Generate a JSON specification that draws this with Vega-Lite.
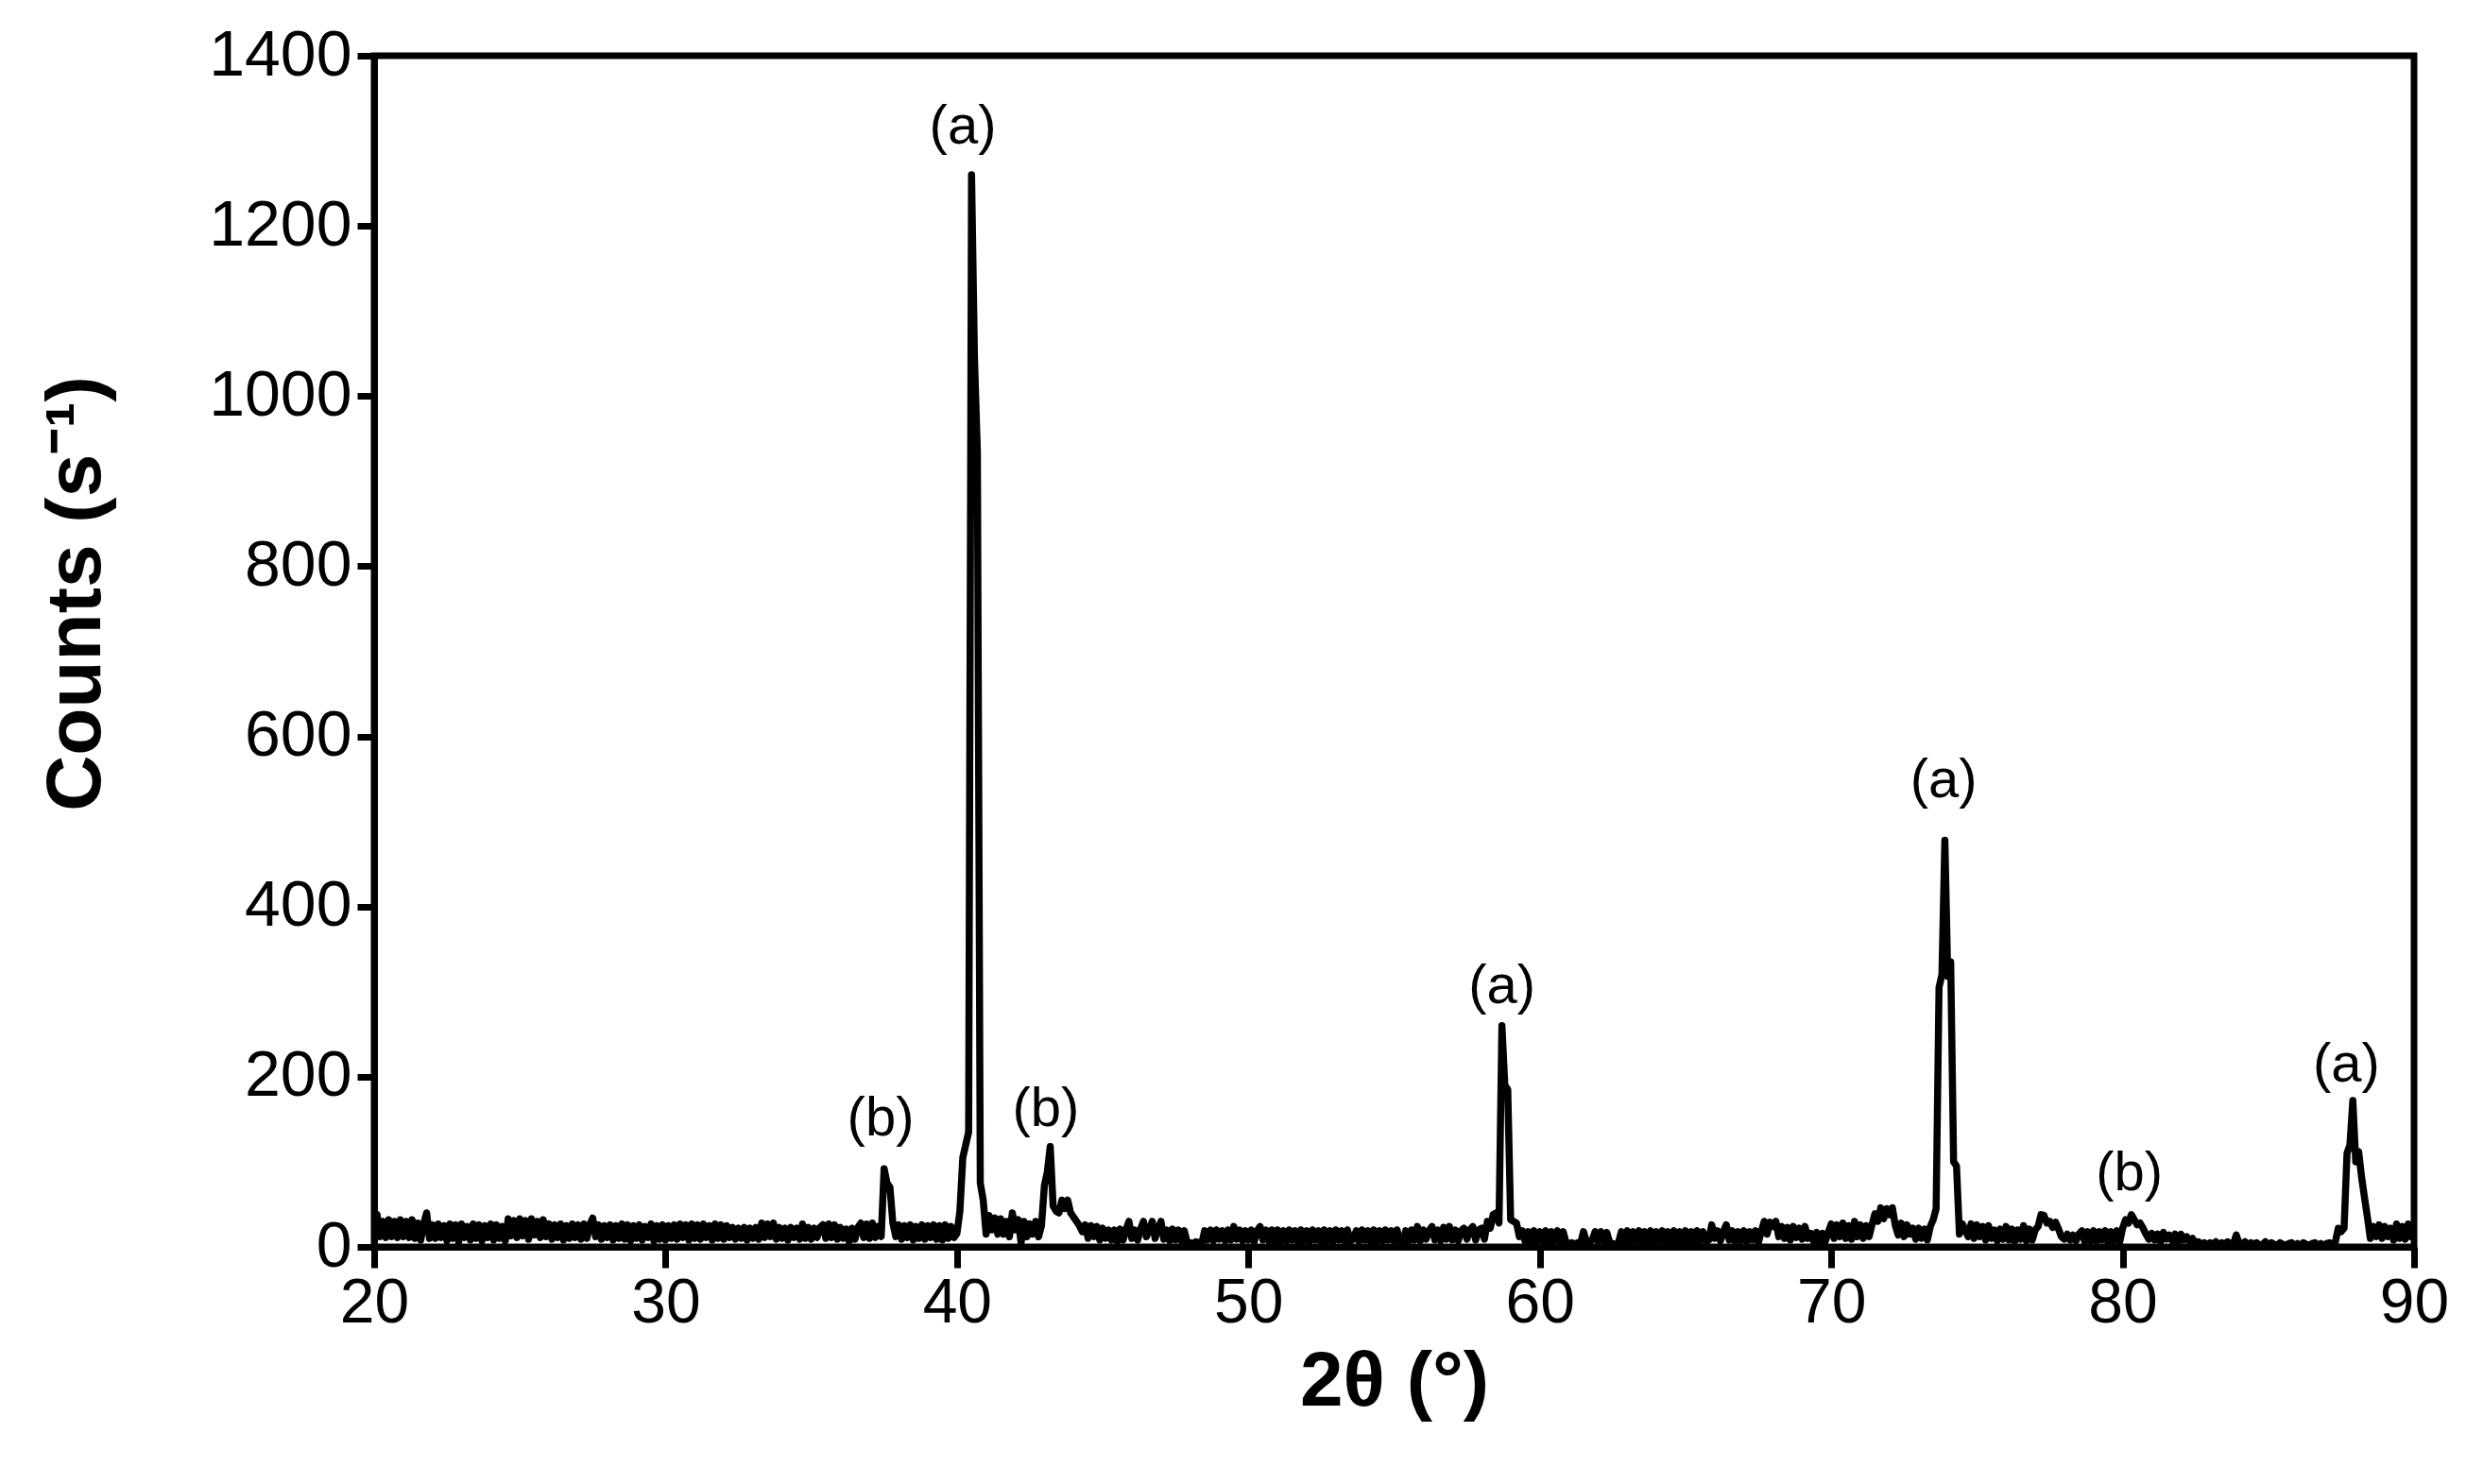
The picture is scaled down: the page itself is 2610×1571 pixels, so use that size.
{
"$schema": "https://vega.github.io/schema/vega-lite/v6.json",
"width": 2159, "height": 1261,
"autosize": {"type": "none"},
"padding": {"left": 396, "top": 59, "right": 55, "bottom": 251},
"background": "white",
"config": {"view": {"stroke": "black", "strokeWidth": 7}, "font": "Liberation Sans"},
"datasets": {
"xrd": [
{"t":20.0,"c":35},{"t":20.1,"c":38},{"t":20.2,"c":12},{"t":20.3,"c":30},{"t":20.4,"c":11},{"t":20.5,"c":32},{"t":20.6,"c":12},{"t":20.7,"c":30},{"t":20.8,"c":11},{"t":20.9,"c":32},
{"t":21.0,"c":12},{"t":21.1,"c":30},{"t":21.2,"c":11},{"t":21.3,"c":32},{"t":21.4,"c":10},{"t":21.5,"c":28},{"t":21.6,"c":8},{"t":21.7,"c":27},{"t":21.8,"c":40},{"t":21.9,"c":10},
{"t":22.0,"c":26},{"t":22.1,"c":10},{"t":22.2,"c":27},{"t":22.3,"c":11},{"t":22.4,"c":25},{"t":22.5,"c":7},{"t":22.6,"c":27},{"t":22.7,"c":10},{"t":22.8,"c":26},{"t":22.9,"c":6},
{"t":23.0,"c":27},{"t":23.1,"c":11},{"t":23.2,"c":24},{"t":23.3,"c":8},{"t":23.4,"c":27},{"t":23.5,"c":10},{"t":23.6,"c":26},{"t":23.7,"c":7},{"t":23.8,"c":25},{"t":23.9,"c":11},
{"t":24.0,"c":27},{"t":24.1,"c":8},{"t":24.2,"c":26},{"t":24.3,"c":10},{"t":24.4,"c":24},{"t":24.5,"c":7},{"t":24.6,"c":33},{"t":24.7,"c":13},{"t":24.8,"c":31},{"t":24.9,"c":11},
{"t":25.0,"c":33},{"t":25.1,"c":13},{"t":25.2,"c":31},{"t":25.3,"c":9},{"t":25.4,"c":33},{"t":25.5,"c":14},{"t":25.6,"c":30},{"t":25.7,"c":11},{"t":25.8,"c":32},{"t":25.9,"c":12},
{"t":26.0,"c":27},{"t":26.1,"c":9},{"t":26.2,"c":26},{"t":26.3,"c":11},{"t":26.4,"c":27},{"t":26.5,"c":8},{"t":26.6,"c":25},{"t":26.7,"c":10},{"t":26.8,"c":27},{"t":26.9,"c":11},
{"t":27.0,"c":26},{"t":27.1,"c":9},{"t":27.2,"c":27},{"t":27.3,"c":10},{"t":27.4,"c":26},{"t":27.5,"c":34},{"t":27.6,"c":12},{"t":27.7,"c":26},{"t":27.8,"c":9},{"t":27.9,"c":25},
{"t":28.0,"c":11},{"t":28.1,"c":26},{"t":28.2,"c":8},{"t":28.3,"c":25},{"t":28.4,"c":10},{"t":28.5,"c":27},{"t":28.6,"c":9},{"t":28.7,"c":26},{"t":28.8,"c":7},{"t":28.9,"c":25},
{"t":29.0,"c":10},{"t":29.1,"c":26},{"t":29.2,"c":8},{"t":29.3,"c":24},{"t":29.4,"c":11},{"t":29.5,"c":27},{"t":29.6,"c":7},{"t":29.7,"c":25},{"t":29.8,"c":9},{"t":29.9,"c":26},
{"t":30.0,"c":8},{"t":30.1,"c":25},{"t":30.2,"c":10},{"t":30.3,"c":26},{"t":30.4,"c":9},{"t":30.5,"c":27},{"t":30.6,"c":11},{"t":30.7,"c":26},{"t":30.8,"c":8},{"t":30.9,"c":27},
{"t":31.0,"c":10},{"t":31.1,"c":26},{"t":31.2,"c":9},{"t":31.3,"c":27},{"t":31.4,"c":11},{"t":31.5,"c":25},{"t":31.6,"c":8},{"t":31.7,"c":27},{"t":31.8,"c":10},{"t":31.9,"c":26},
{"t":32.0,"c":9},{"t":32.1,"c":25},{"t":32.2,"c":11},{"t":32.3,"c":23},{"t":32.4,"c":9},{"t":32.5,"c":22},{"t":32.6,"c":10},{"t":32.7,"c":23},{"t":32.8,"c":8},{"t":32.9,"c":22},
{"t":33.0,"c":10},{"t":33.1,"c":23},{"t":33.2,"c":9},{"t":33.3,"c":28},{"t":33.4,"c":11},{"t":33.5,"c":27},{"t":33.6,"c":12},{"t":33.7,"c":28},{"t":33.8,"c":9},{"t":33.9,"c":23},
{"t":34.0,"c":10},{"t":34.1,"c":22},{"t":34.2,"c":8},{"t":34.3,"c":23},{"t":34.4,"c":11},{"t":34.5,"c":22},{"t":34.6,"c":9},{"t":34.7,"c":27},{"t":34.8,"c":10},{"t":34.9,"c":23},
{"t":35.0,"c":9},{"t":35.1,"c":22},{"t":35.2,"c":11},{"t":35.3,"c":23},{"t":35.4,"c":26},{"t":35.5,"c":10},{"t":35.6,"c":27},{"t":35.7,"c":11},{"t":35.8,"c":26},{"t":35.9,"c":9},
{"t":36.0,"c":23},{"t":36.1,"c":10},{"t":36.2,"c":21},{"t":36.3,"c":6},{"t":36.4,"c":22},{"t":36.5,"c":9},{"t":36.6,"c":23},{"t":36.7,"c":28},{"t":36.8,"c":11},{"t":36.9,"c":27},
{"t":37.0,"c":10},{"t":37.1,"c":28},{"t":37.2,"c":11},{"t":37.3,"c":24},{"t":37.4,"c":12},{"t":37.5,"c":92},{"t":37.6,"c":75},{"t":37.7,"c":70},{"t":37.8,"c":28},{"t":37.9,"c":12},
{"t":38.0,"c":26},{"t":38.1,"c":9},{"t":38.2,"c":25},{"t":38.3,"c":11},{"t":38.4,"c":26},{"t":38.5,"c":8},{"t":38.6,"c":24},{"t":38.7,"c":10},{"t":38.8,"c":26},{"t":38.9,"c":9},
{"t":39.0,"c":25},{"t":39.1,"c":11},{"t":39.2,"c":26},{"t":39.3,"c":9},{"t":39.4,"c":25},{"t":39.5,"c":8},{"t":39.6,"c":26},{"t":39.7,"c":10},{"t":39.8,"c":24},{"t":39.9,"c":11},
{"t":40.0,"c":16},{"t":40.1,"c":42},{"t":40.2,"c":105},{"t":40.3,"c":120},{"t":40.4,"c":135},{"t":40.5,"c":1260},{"t":40.6,"c":1045},{"t":40.7,"c":935},{"t":40.8,"c":75},{"t":40.9,"c":55},
{"t":41.0,"c":15},{"t":41.1,"c":37},{"t":41.2,"c":20},{"t":41.3,"c":34},{"t":41.4,"c":15},{"t":41.5,"c":33},{"t":41.6,"c":15},{"t":41.7,"c":30},{"t":41.8,"c":12},{"t":41.9,"c":40},
{"t":42.0,"c":20},{"t":42.1,"c":32},{"t":42.2,"c":5},{"t":42.3,"c":30},{"t":42.4,"c":12},{"t":42.5,"c":27},{"t":42.6,"c":15},{"t":42.7,"c":30},{"t":42.8,"c":12},{"t":42.9,"c":25},
{"t":43.0,"c":72},{"t":43.1,"c":88},{"t":43.2,"c":118},{"t":43.3,"c":48},{"t":43.4,"c":42},{"t":43.5,"c":40},{"t":43.6,"c":55},{"t":43.7,"c":45},{"t":43.8,"c":55},{"t":43.9,"c":40},
{"t":44.0,"c":35},{"t":44.1,"c":30},{"t":44.2,"c":25},{"t":44.3,"c":18},{"t":44.4,"c":26},{"t":44.5,"c":10},{"t":44.6,"c":25},{"t":44.7,"c":12},{"t":44.8,"c":24},{"t":44.9,"c":8},
{"t":45.0,"c":22},{"t":45.1,"c":10},{"t":45.2,"c":20},{"t":45.3,"c":8},{"t":45.4,"c":20},{"t":45.5,"c":6},{"t":45.6,"c":21},{"t":45.7,"c":8},{"t":45.8,"c":20},{"t":45.9,"c":30},
{"t":46.0,"c":10},{"t":46.1,"c":20},{"t":46.2,"c":8},{"t":46.3,"c":21},{"t":46.4,"c":30},{"t":46.5,"c":12},{"t":46.6,"c":20},{"t":46.7,"c":30},{"t":46.8,"c":10},{"t":46.9,"c":21},
{"t":47.0,"c":30},{"t":47.1,"c":9},{"t":47.2,"c":20},{"t":47.3,"c":7},{"t":47.4,"c":21},{"t":47.5,"c":8},{"t":47.6,"c":20},{"t":47.7,"c":7},{"t":47.8,"c":19},{"t":47.9,"c":5},
{"t":48.0,"c":5},{"t":48.1,"c":4},{"t":48.2,"c":6},{"t":48.3,"c":5},{"t":48.4,"c":4},{"t":48.5,"c":19},{"t":48.6,"c":8},{"t":48.7,"c":20},{"t":48.8,"c":7},{"t":48.9,"c":20},
{"t":49.0,"c":9},{"t":49.1,"c":19},{"t":49.2,"c":7},{"t":49.3,"c":20},{"t":49.4,"c":8},{"t":49.5,"c":24},{"t":49.6,"c":9},{"t":49.7,"c":20},{"t":49.8,"c":7},{"t":49.9,"c":19},
{"t":50.0,"c":8},{"t":50.1,"c":20},{"t":50.2,"c":6},{"t":50.3,"c":19},{"t":50.4,"c":24},{"t":50.5,"c":8},{"t":50.6,"c":20},{"t":50.7,"c":7},{"t":50.8,"c":20},{"t":50.9,"c":5},
{"t":51.0,"c":20},{"t":51.1,"c":7},{"t":51.2,"c":19},{"t":51.3,"c":6},{"t":51.4,"c":20},{"t":51.5,"c":8},{"t":51.6,"c":19},{"t":51.7,"c":5},{"t":51.8,"c":20},{"t":51.9,"c":7},
{"t":52.0,"c":19},{"t":52.1,"c":6},{"t":52.2,"c":20},{"t":52.3,"c":8},{"t":52.4,"c":19},{"t":52.5,"c":5},{"t":52.6,"c":20},{"t":52.7,"c":7},{"t":52.8,"c":19},{"t":52.9,"c":6},
{"t":53.0,"c":20},{"t":53.1,"c":8},{"t":53.2,"c":19},{"t":53.3,"c":6},{"t":53.4,"c":20},{"t":53.5,"c":7},{"t":53.6,"c":9},{"t":53.7,"c":19},{"t":53.8,"c":6},{"t":53.9,"c":20},
{"t":54.0,"c":8},{"t":54.1,"c":19},{"t":54.2,"c":5},{"t":54.3,"c":20},{"t":54.4,"c":7},{"t":54.5,"c":19},{"t":54.6,"c":6},{"t":54.7,"c":20},{"t":54.8,"c":8},{"t":54.9,"c":19},
{"t":55.0,"c":6},{"t":55.1,"c":20},{"t":55.2,"c":7},{"t":55.3,"c":3},{"t":55.4,"c":19},{"t":55.5,"c":6},{"t":55.6,"c":20},{"t":55.7,"c":8},{"t":55.8,"c":24},{"t":55.9,"c":7},
{"t":56.0,"c":20},{"t":56.1,"c":9},{"t":56.2,"c":19},{"t":56.3,"c":24},{"t":56.4,"c":8},{"t":56.5,"c":20},{"t":56.6,"c":7},{"t":56.7,"c":23},{"t":56.8,"c":9},{"t":56.9,"c":24},
{"t":57.0,"c":8},{"t":57.1,"c":20},{"t":57.2,"c":7},{"t":57.3,"c":19},{"t":57.4,"c":22},{"t":57.5,"c":9},{"t":57.6,"c":20},{"t":57.7,"c":24},{"t":57.8,"c":8},{"t":57.9,"c":20},
{"t":58.0,"c":22},{"t":58.1,"c":9},{"t":58.2,"c":30},{"t":58.3,"c":22},{"t":58.4,"c":38},{"t":58.5,"c":40},{"t":58.6,"c":28},{"t":58.7,"c":260},{"t":58.8,"c":190},{"t":58.9,"c":185},
{"t":59.0,"c":32},{"t":59.1,"c":30},{"t":59.2,"c":28},{"t":59.3,"c":12},{"t":59.4,"c":19},{"t":59.5,"c":6},{"t":59.6,"c":18},{"t":59.7,"c":5},{"t":59.8,"c":19},{"t":59.9,"c":7},
{"t":60.0,"c":18},{"t":60.1,"c":6},{"t":60.2,"c":19},{"t":60.3,"c":5},{"t":60.4,"c":18},{"t":60.5,"c":7},{"t":60.6,"c":19},{"t":60.7,"c":6},{"t":60.8,"c":18},{"t":60.9,"c":5},
{"t":61.0,"c":4},{"t":61.1,"c":5},{"t":61.2,"c":3},{"t":61.3,"c":5},{"t":61.4,"c":4},{"t":61.5,"c":18},{"t":61.6,"c":6},{"t":61.7,"c":5},{"t":61.8,"c":8},{"t":61.9,"c":18},
{"t":62.0,"c":6},{"t":62.1,"c":18},{"t":62.2,"c":7},{"t":62.3,"c":17},{"t":62.4,"c":5},{"t":62.5,"c":4},{"t":62.6,"c":3},{"t":62.7,"c":5},{"t":62.8,"c":18},{"t":62.9,"c":6},
{"t":63.0,"c":19},{"t":63.1,"c":5},{"t":63.2,"c":18},{"t":63.3,"c":7},{"t":63.4,"c":19},{"t":63.5,"c":4},{"t":63.6,"c":18},{"t":63.7,"c":6},{"t":63.8,"c":19},{"t":63.9,"c":5},
{"t":64.0,"c":18},{"t":64.1,"c":7},{"t":64.2,"c":19},{"t":64.3,"c":4},{"t":64.4,"c":18},{"t":64.5,"c":6},{"t":64.6,"c":19},{"t":64.7,"c":5},{"t":64.8,"c":18},{"t":64.9,"c":3},
{"t":65.0,"c":19},{"t":65.1,"c":6},{"t":65.2,"c":18},{"t":65.3,"c":5},{"t":65.4,"c":19},{"t":65.5,"c":7},{"t":65.6,"c":18},{"t":65.7,"c":6},{"t":65.8,"c":8},{"t":65.9,"c":26},
{"t":66.0,"c":10},{"t":66.1,"c":19},{"t":66.2,"c":7},{"t":66.3,"c":18},{"t":66.4,"c":26},{"t":66.5,"c":8},{"t":66.6,"c":19},{"t":66.7,"c":6},{"t":66.8,"c":18},{"t":66.9,"c":7},
{"t":67.0,"c":19},{"t":67.1,"c":6},{"t":67.2,"c":18},{"t":67.3,"c":8},{"t":67.4,"c":19},{"t":67.5,"c":5},{"t":67.6,"c":18},{"t":67.7,"c":30},{"t":67.8,"c":15},{"t":67.9,"c":29},
{"t":68.0,"c":24},{"t":68.1,"c":30},{"t":68.2,"c":12},{"t":68.3,"c":24},{"t":68.4,"c":10},{"t":68.5,"c":23},{"t":68.6,"c":8},{"t":68.7,"c":24},{"t":68.8,"c":11},{"t":68.9,"c":22},
{"t":69.0,"c":9},{"t":69.1,"c":24},{"t":69.2,"c":10},{"t":69.3,"c":16},{"t":69.4,"c":6},{"t":69.5,"c":17},{"t":69.6,"c":5},{"t":69.7,"c":16},{"t":69.8,"c":7},{"t":69.9,"c":17},
{"t":70.0,"c":27},{"t":70.1,"c":10},{"t":70.2,"c":26},{"t":70.3,"c":12},{"t":70.4,"c":28},{"t":70.5,"c":10},{"t":70.6,"c":25},{"t":70.7,"c":9},{"t":70.8,"c":30},{"t":70.9,"c":12},
{"t":71.0,"c":26},{"t":71.1,"c":10},{"t":71.2,"c":25},{"t":71.3,"c":12},{"t":71.4,"c":26},{"t":71.5,"c":39},{"t":71.6,"c":30},{"t":71.7,"c":46},{"t":71.8,"c":33},{"t":71.9,"c":45},
{"t":72.0,"c":38},{"t":72.1,"c":46},{"t":72.2,"c":25},{"t":72.3,"c":14},{"t":72.4,"c":28},{"t":72.5,"c":12},{"t":72.6,"c":26},{"t":72.7,"c":15},{"t":72.8,"c":22},{"t":72.9,"c":9},
{"t":73.0,"c":22},{"t":73.1,"c":10},{"t":73.2,"c":21},{"t":73.3,"c":8},{"t":73.4,"c":24},{"t":73.5,"c":32},{"t":73.6,"c":45},{"t":73.7,"c":305},{"t":73.8,"c":320},{"t":73.9,"c":478},
{"t":74.0,"c":318},{"t":74.1,"c":335},{"t":74.2,"c":100},{"t":74.3,"c":95},{"t":74.4,"c":15},{"t":74.5,"c":27},{"t":74.6,"c":20},{"t":74.7,"c":12},{"t":74.8,"c":27},{"t":74.9,"c":10},
{"t":75.0,"c":26},{"t":75.1,"c":12},{"t":75.2,"c":24},{"t":75.3,"c":8},{"t":75.4,"c":25},{"t":75.5,"c":10},{"t":75.6,"c":20},{"t":75.7,"c":7},{"t":75.8,"c":21},{"t":75.9,"c":9},
{"t":76.0,"c":24},{"t":76.1,"c":8},{"t":76.2,"c":21},{"t":76.3,"c":6},{"t":76.4,"c":20},{"t":76.5,"c":9},{"t":76.6,"c":25},{"t":76.7,"c":7},{"t":76.8,"c":21},{"t":76.9,"c":8},
{"t":77.0,"c":20},{"t":77.1,"c":24},{"t":77.2,"c":38},{"t":77.3,"c":37},{"t":77.4,"c":28},{"t":77.5,"c":30},{"t":77.6,"c":23},{"t":77.7,"c":29},{"t":77.8,"c":21},{"t":77.9,"c":12},
{"t":78.0,"c":9},{"t":78.1,"c":15},{"t":78.2,"c":8},{"t":78.3,"c":14},{"t":78.4,"c":7},{"t":78.5,"c":15},{"t":78.6,"c":19},{"t":78.7,"c":6},{"t":78.8,"c":18},{"t":78.9,"c":7},
{"t":79.0,"c":19},{"t":79.1,"c":6},{"t":79.2,"c":18},{"t":79.3,"c":8},{"t":79.4,"c":19},{"t":79.5,"c":5},{"t":79.6,"c":18},{"t":79.7,"c":7},{"t":79.8,"c":19},{"t":79.9,"c":6},
{"t":80.0,"c":22},{"t":80.1,"c":32},{"t":80.2,"c":28},{"t":80.3,"c":38},{"t":80.4,"c":32},{"t":80.5,"c":26},{"t":80.6,"c":28},{"t":80.7,"c":22},{"t":80.8,"c":15},{"t":80.9,"c":9},
{"t":81.0,"c":16},{"t":81.1,"c":8},{"t":81.2,"c":15},{"t":81.3,"c":6},{"t":81.4,"c":17},{"t":81.5,"c":9},{"t":81.6,"c":14},{"t":81.7,"c":7},{"t":81.8,"c":15},{"t":81.9,"c":5},
{"t":82.0,"c":15},{"t":82.1,"c":8},{"t":82.2,"c":12},{"t":82.3,"c":6},{"t":82.4,"c":10},{"t":82.5,"c":4},{"t":82.6,"c":6},{"t":82.7,"c":3},{"t":82.8,"c":5},{"t":82.9,"c":2},
{"t":83.0,"c":5},{"t":83.1,"c":3},{"t":83.2,"c":6},{"t":83.3,"c":2},{"t":83.4,"c":5},{"t":83.5,"c":3},{"t":83.6,"c":6},{"t":83.7,"c":4},{"t":83.8,"c":3},{"t":83.9,"c":14},
{"t":84.0,"c":4},{"t":84.1,"c":3},{"t":84.2,"c":6},{"t":84.3,"c":2},{"t":84.4,"c":5},{"t":84.5,"c":3},{"t":84.6,"c":5},{"t":84.7,"c":2},{"t":84.8,"c":3},{"t":84.9,"c":6},
{"t":85.0,"c":2},{"t":85.1,"c":5},{"t":85.2,"c":3},{"t":85.3,"c":2},{"t":85.4,"c":5},{"t":85.5,"c":3},{"t":85.6,"c":2},{"t":85.7,"c":4},{"t":85.8,"c":5},{"t":85.9,"c":2},
{"t":86.0,"c":4},{"t":86.1,"c":2},{"t":86.2,"c":5},{"t":86.3,"c":3},{"t":86.4,"c":2},{"t":86.5,"c":4},{"t":86.6,"c":5},{"t":86.7,"c":2},{"t":86.8,"c":4},{"t":86.9,"c":2},
{"t":87.0,"c":4},{"t":87.1,"c":5},{"t":87.2,"c":2},{"t":87.3,"c":6},{"t":87.4,"c":22},{"t":87.5,"c":18},{"t":87.6,"c":22},{"t":87.7,"c":110},{"t":87.8,"c":120},{"t":87.9,"c":172},
{"t":88.0,"c":100},{"t":88.1,"c":112},{"t":88.2,"c":82},{"t":88.3,"c":58},{"t":88.4,"c":35},{"t":88.5,"c":10},{"t":88.6,"c":24},{"t":88.7,"c":12},{"t":88.8,"c":26},{"t":88.9,"c":10},
{"t":89.0,"c":24},{"t":89.1,"c":12},{"t":89.2,"c":22},{"t":89.3,"c":8},{"t":89.4,"c":27},{"t":89.5,"c":10},{"t":89.6,"c":24},{"t":89.7,"c":9},{"t":89.8,"c":27},{"t":89.9,"c":12},
{"t":90.0,"c":24}
],
"labels": [
{"t":40.2,"c":1316,"txt":"(a)"},
{"t":37.38,"c":150,"txt":"(b)"},
{"t":43.05,"c":161,"txt":"(b)"},
{"t":58.7,"c":305,"txt":"(a)"},
{"t":73.86,"c":547,"txt":"(a)"},
{"t":80.23,"c":85,"txt":"(b)"},
{"t":87.68,"c":213,"txt":"(a)"}
]
},
"layer": [
{
"data": {"name": "xrd"},
"mark": {"type": "line", "color": "black", "strokeWidth": 7.5, "strokeJoin": "round", "strokeCap": "round", "clip": true},
"encoding": {
"x": {"field": "t", "type": "quantitative",
 "scale": {"domain": [20, 90], "nice": false, "zero": false},
 "axis": {"values": [20,30,40,50,60,70,80,90], "format": "d", "title": "2θ (°)", "titleFontSize": 82, "titleFontWeight": "bold", "titleColor": "black", "titleFont": "Liberation Sans",
  "labelFontSize": 66, "labelColor": "black", "labelFont": "Liberation Sans", "labelPadding": 5, "labelFlush": false, "labelOverlap": false,
  "domainColor": "black", "domainWidth": 7, "tickColor": "black", "tickWidth": 7, "tickSize": 22, "titlePadding": 10, "grid": false}},
"y": {"field": "c", "type": "quantitative",
 "scale": {"domain": [0, 1400], "nice": false, "zero": true},
 "axis": {"values": [0,200,400,600,800,1000,1200,1400], "format": "d", "title": "Counts (s⁻¹)", "titleFontSize": 82, "titleFontWeight": "bold", "titleColor": "black", "titleFont": "Liberation Sans",
  "labelFontSize": 68, "labelColor": "black", "labelFont": "Liberation Sans", "labelPadding": 6, "labelFlush": false, "labelOverlap": false,
  "domainColor": "black", "domainWidth": 7, "tickColor": "black", "tickWidth": 7, "tickSize": 18, "titlePadding": 98, "titleY": 569, "grid": false}}
}
},
{
"data": {"name": "labels"},
"mark": {"type": "text", "fontSize": 58, "color": "black", "font": "Liberation Sans", "baseline": "middle", "align": "center"},
"encoding": {
"x": {"field": "t", "type": "quantitative"},
"y": {"field": "c", "type": "quantitative"},
"text": {"field": "txt"}
}
}
]
}
